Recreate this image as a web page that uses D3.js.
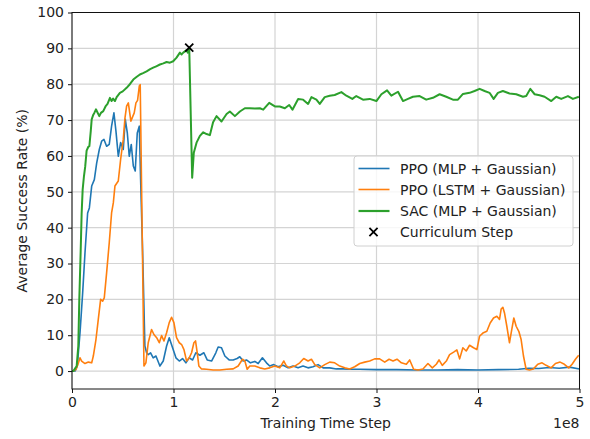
<!DOCTYPE html>
<html>
<head>
<meta charset="utf-8">
<script src="https://cdn.jsdelivr.net/npm/d3@7"></script>
<style>
  body { margin: 0; background: #fff; }
  text { font-family: "DejaVu Sans", sans-serif; }
</style>
</head>
<body>
<div class="chart"></div>
<script>
// size of the page and of the plotting area
const width = 590;
const height = 439;
const margin = {top: 12.5, right: 10, bottom: 50, left: 72};

// x values are training steps in units of 1e8, y values are success rate in %
const seriesNames = ["PPO (MLP + Gaussian)", "PPO (LSTM + Gaussian)", "SAC (MLP + Gaussian)"];
const xTicks = [0, 1, 2, 3, 4, 5];
const yTicks = [0, 10, 20, 30, 40, 50, 60, 70, 80, 90, 100];

const ppoMlp = [
  [0,0],[0.03,0],[0.052,1.4],[0.079,10.7],[0.105,21.8],[0.128,33],[0.154,44.1],[0.171,45.5],
  [0.194,51.6],[0.22,53.4],[0.243,58],[0.269,61.8],[0.292,64.1],[0.315,64.6],[0.341,62.7],
  [0.367,63.2],[0.39,68.3],[0.413,72],[0.433,66.9],[0.456,59.9],[0.479,63.7],[0.505,61.8],
  [0.525,70.2],[0.545,66.4],[0.564,59.9],[0.584,63.2],[0.604,57.2],[0.623,55.8],[0.643,66.4],
  [0.663,68.3],[0.676,53.4],[0.696,33],[0.718,7],[0.735,5.1],[0.751,4.6],[0.774,5.1],[0.8,3.7],
  [0.827,4.2],[0.866,1.4],[0.899,2.8],[0.932,7],[0.958,9.3],[0.991,6.5],[1.024,3.7],[1.057,2.8],
  [1.089,3.5],[1.122,2.3],[1.155,3.7],[1.188,3.1],[1.22,5.1],[1.26,4.4],[1.299,5.1],[1.332,3.1],
  [1.375,2.8],[1.417,5.1],[1.44,6.7],[1.473,6.5],[1.506,4.2],[1.548,3.1],[1.588,3.1],[1.627,3.5],
  [1.653,4],[1.686,2.8],[1.719,3.1],[1.758,2.3],[1.801,2.7],[1.834,2.1],[1.876,3.7],[1.916,2.3],
  [1.948,1.4],[1.988,1.8],[2.03,1.2],[2.08,1.6],[2.129,0.9],[2.178,1.4],[2.227,0.9],[2.276,1.4],
  [2.325,0.9],[2.375,1.2],[2.424,1.8],[2.474,0.9],[2.539,0.9],[2.605,0.6],[2.671,0.6],[2.736,0.5],
  [2.835,0.5],[3,0.4],[3.2,0.4],[3.4,0.3],[3.6,0.3],[3.8,0.4],[4,0.3],[4.2,0.4],[4.4,0.5],
  [4.5,0.8],[4.6,0.7],[4.7,1],[4.8,0.8],[4.9,1.1],[5,0.6]
];

const ppoLstm = [
  [0,0],[0.013,0],[0.04,0.5],[0.06,2],[0.079,3.7],[0.095,2.8],[0.128,2.1],[0.161,2.5],[0.194,2.3],
  [0.21,4.2],[0.236,8.8],[0.259,14.4],[0.282,20],[0.302,19.5],[0.318,20.4],[0.341,27.4],[0.367,35.8],
  [0.39,44.1],[0.407,46.9],[0.423,51.6],[0.456,53],[0.479,59],[0.505,64.6],[0.522,70.6],[0.538,73.9],
  [0.555,74.8],[0.58,69.7],[0.613,72],[0.63,74.8],[0.646,75.5],[0.663,79.5],[0.672,79.9],[0.709,1.4],
  [0.728,2.3],[0.751,7.9],[0.784,11.6],[0.807,10.2],[0.834,9.3],[0.86,7.9],[0.883,9.9],[0.906,8.4],
  [0.932,10.7],[0.958,13.5],[0.981,15],[1.004,13.5],[1.03,9.3],[1.057,7.9],[1.08,7.4],[1.103,6],
  [1.129,2.8],[1.155,3.7],[1.178,5.1],[1.201,7.9],[1.217,8.4],[1.234,5.1],[1.25,1.4],[1.276,0.6],
  [1.326,0.5],[1.391,0.3],[1.457,0.3],[1.523,0.5],[1.588,0.6],[1.637,1.4],[1.68,3.3],[1.703,2.8],
  [1.726,0.5],[1.752,1.4],[1.801,1.4],[1.85,0.9],[1.899,0.6],[1.948,0.9],[1.998,1.4],[2.047,0.9],
  [2.087,2.8],[2.113,1.4],[2.146,0.9],[2.195,1.4],[2.244,2.3],[2.283,3.5],[2.326,2.8],[2.359,3.3],
  [2.392,1.8],[2.441,0.9],[2.49,1.8],[2.539,2.5],[2.588,2.3],[2.638,1.4],[2.687,0.9],[2.736,0.6],
  [2.785,1.2],[2.835,2.1],[2.884,2.5],[2.933,2.8],[2.982,3.4],[3.031,3.4],[3.081,2.5],[3.124,3.3],
  [3.163,2.8],[3.202,3.3],[3.245,2.3],[3.294,1.9],[3.327,3.1],[3.366,0.5],[3.409,0.3],[3.458,0.6],
  [3.507,2.1],[3.55,0.9],[3.589,1.9],[3.616,3.1],[3.648,1.6],[3.688,2.8],[3.72,4.6],[3.76,5.3],
  [3.792,5.9],[3.819,3.4],[3.851,6.5],[3.884,5.6],[3.917,7.2],[3.956,6.5],[3.989,6],[4.015,9.7],
  [4.048,10.6],[4.087,11.1],[4.12,13.4],[4.153,14.8],[4.186,15.3],[4.212,14.4],[4.228,17.3],
  [4.245,17.8],[4.261,16.2],[4.284,12.5],[4.31,7.9],[4.333,11.6],[4.353,14.8],[4.376,12.5],
  [4.402,11.1],[4.425,8.8],[4.448,4.2],[4.474,0.5],[4.507,0.3],[4.546,0.6],[4.589,1.9],[4.631,2.3],
  [4.671,1.6],[4.72,0.9],[4.763,2.1],[4.809,2.5],[4.851,1.9],[4.894,0.9],[4.927,1.9],[4.96,3.3],
  [4.992,4.4]
];

const sacMlp = [
  [0,0],[0.013,0],[0.046,1.4],[0.062,7],[0.072,20],[0.085,33],[0.095,44],[0.105,50.6],[0.118,54.4],
  [0.13,57],[0.144,61.5],[0.16,62.5],[0.171,62.7],[0.185,67],[0.194,70.2],[0.21,71.5],[0.22,72],
  [0.236,73],[0.25,72.2],[0.269,71.1],[0.285,72],[0.308,72.5],[0.33,73.8],[0.35,74.5],[0.374,76.2],
  [0.39,75.3],[0.405,76],[0.423,75.3],[0.44,76.4],[0.472,77.6],[0.5,78],[0.538,79],[0.57,80],
  [0.604,81.3],[0.635,82],[0.669,82.7],[0.7,83.1],[0.735,83.6],[0.77,84.2],[0.8,84.6],[0.83,85],
  [0.866,85.5],[0.9,85.8],[0.932,86.2],[0.965,86],[0.997,86.4],[1.03,87.4],[1.063,88.8],[1.08,88.3],
  [1.096,88.8],[1.129,89.5],[1.14,88.8],[1.155,90.2],[1.184,53.9],[1.2,60.9],[1.227,63.7],[1.26,65.6],
  [1.293,66.6],[1.326,66.1],[1.358,65.8],[1.39,69.4],[1.424,71.1],[1.473,69.6],[1.523,71.7],
  [1.555,72.4],[1.605,71.1],[1.654,72.4],[1.703,73.3],[1.752,73.3],[1.802,73.2],[1.851,73.3],
  [1.884,72.9],[1.943,74.8],[1.999,73.8],[2.047,73.8],[2.097,73.3],[2.14,74.2],[2.172,72.9],
  [2.228,75.9],[2.277,75.7],[2.326,74.5],[2.359,76.4],[2.408,75.7],[2.441,74.5],[2.49,76.4],
  [2.539,76.8],[2.588,77],[2.654,77.8],[2.703,76.8],[2.762,75.9],[2.801,76.7],[2.867,75.7],
  [2.933,75.9],[2.999,75.3],[3.048,77.2],[3.104,78.3],[3.146,76.8],[3.212,77.9],[3.261,75.3],
  [3.31,75.9],[3.359,76.5],[3.425,76.7],[3.49,75.7],[3.556,76.2],[3.622,77.2],[3.687,76.5],
  [3.753,75.7],[3.802,75.7],[3.852,77.3],[3.917,77.6],[3.966,78.1],[4.016,78.7],[4.065,78.1],
  [4.114,77.6],[4.154,75.9],[4.196,77.6],[4.245,78.1],[4.311,77.4],[4.377,77.2],[4.443,76.5],
  [4.475,76.7],[4.515,78.7],[4.558,77.2],[4.607,76.9],[4.656,76.5],[4.722,75.3],[4.771,76.5],
  [4.82,75.9],[4.886,76.7],[4.935,75.9],[4.994,76.5]
];

// the point where the curriculum steps up
const curriculumStep = [[1.155, 90.2]];

const colors = ["#1f77b4", "#ff7f0e", "#2ca02c"];

const svg = d3.select(".chart")
  .append("svg")
    .attr("width", width)
    .attr("height", height)
    .style("background", "#fff");

const x = d3.scaleLinear()
  .domain([0, 5])
  .range([margin.left, width - margin.right - 0.5]);

const y = d3.scaleLinear()
  .domain([-5, 100])
  .range([height - margin.bottom, margin.top]);

// grid lines
const grid = svg.append("g").attr("stroke", "#d4d4d4").attr("stroke-width", 1.2);
grid.selectAll(".gx")
  .data(xTicks)
  .enter().append("line")
    .attr("x1", d => x(d)).attr("x2", d => x(d))
    .attr("y1", y.range()[0]).attr("y2", y.range()[1]);
grid.selectAll(".gy")
  .data(yTicks)
  .enter().append("line")
    .attr("x1", x.range()[0]).attr("x2", x.range()[1])
    .attr("y1", d => y(d)).attr("y2", d => y(d));

// lines
const line = d3.line()
  .x(d => x(d[0]))
  .y(d => y(d[1]));

[ppoMlp, ppoLstm, sacMlp].forEach(function(data, i) {
  svg.append("path")
    .datum(data)
    .attr("fill", "none")
    .attr("stroke", colors[i])
    .attr("stroke-width", i == 2 ? 2 : 1.6)
    .attr("stroke-linejoin", "round")
    .attr("d", line);
});

// curriculum marker
svg.selectAll(".marker")
  .data(curriculumStep)
  .enter().append("path")
    .attr("transform", d => "translate(" + x(d[0]) + "," + y(d[1]) + ")")
    .attr("d", d3.symbol().type(d3.symbolX).size(45))
    .attr("fill", "none")
    .attr("stroke", "#000")
    .attr("stroke-width", 1.8);

// frame
svg.append("rect")
  .attr("x", x.range()[0])
  .attr("y", y.range()[1])
  .attr("width", x.range()[1] - x.range()[0])
  .attr("height", y.range()[0] - y.range()[1])
  .attr("fill", "none")
  .attr("stroke", "#111")
  .attr("stroke-width", 1);

// axes
const xAxis = svg.append("g")
  .attr("transform", "translate(0," + y.range()[0] + ")")
  .call(d3.axisBottom(x).tickValues(xTicks).tickFormat(d3.format("d")).tickSize(4).tickPadding(4));
const yAxis = svg.append("g")
  .attr("transform", "translate(" + x.range()[0] + ",0)")
  .call(d3.axisLeft(y).tickValues(yTicks).tickSize(4).tickPadding(4));

[xAxis, yAxis].forEach(function(a) {
  a.select(".domain").remove();
  a.selectAll("line").attr("stroke", "#111");
  a.selectAll("text")
    .attr("fill", "#222")
    .style("font-size", "14px")
    .style("font-family", "DejaVu Sans, sans-serif");
});

// axis titles
svg.append("text")
  .attr("x", (x.range()[0] + x.range()[1]) / 2)
  .attr("y", 428)
  .attr("text-anchor", "middle")
  .attr("fill", "#222")
  .style("font-size", "14px")
  .text("Training Time Step");

svg.append("text")
  .attr("x", x.range()[1])
  .attr("y", 428)
  .attr("text-anchor", "end")
  .attr("fill", "#222")
  .style("font-size", "14px")
  .text("1e8");

svg.append("text")
  .attr("transform", "translate(27," + (y.range()[0] + y.range()[1]) / 2 + ") rotate(-90)")
  .attr("text-anchor", "middle")
  .attr("fill", "#222")
  .style("font-size", "14px")
  .text("Average Success Rate (%)");

// legend
const legend = svg.append("g").attr("transform", "translate(354,156)");
legend.append("rect")
  .attr("width", 219)
  .attr("height", 90)
  .attr("rx", 3)
  .attr("fill", "#fff")
  .attr("fill-opacity", 0.8)
  .attr("stroke", "#d0d0d0");

const rowY = [12.5, 33.5, 55, 76];
seriesNames.forEach(function(name, i) {
  legend.append("line")
    .attr("x1", 4.5).attr("x2", 35.5)
    .attr("y1", rowY[i]).attr("y2", rowY[i])
    .attr("stroke", colors[i])
    .attr("stroke-width", i == 2 ? 2.2 : 1.6);
  legend.append("text")
    .attr("x", 46)
    .attr("y", rowY[i] + 5)
    .attr("fill", "#222")
    .style("font-size", "14px")
    .text(name);
});
legend.append("path")
  .attr("transform", "translate(19.5," + rowY[3] + ")")
  .attr("d", d3.symbol().type(d3.symbolX).size(45))
  .attr("fill", "none")
  .attr("stroke", "#000")
  .attr("stroke-width", 1.8);
legend.append("text")
  .attr("x", 46)
  .attr("y", rowY[3] + 5)
  .attr("fill", "#222")
  .style("font-size", "14px")
  .text("Curriculum Step");
</script>
</body>
</html>
